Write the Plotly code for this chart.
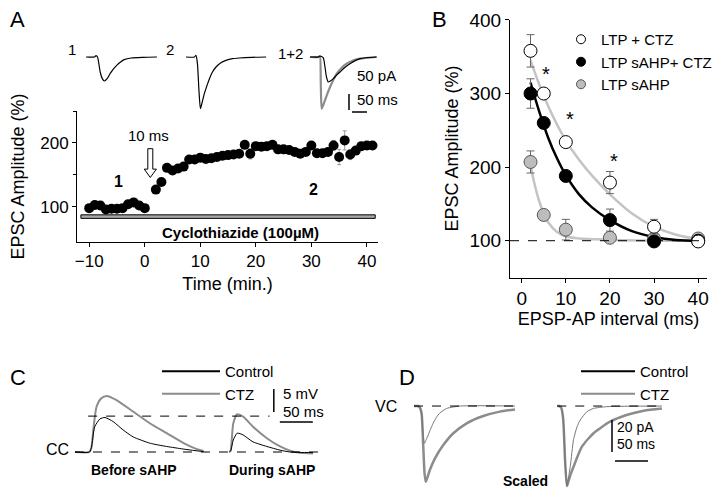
import plotly.graph_objects as go

W, H = 720, 491
OFF = 8  # the page shows the figure 8 px in from the top-left corner
FONT = "Liberation Sans, Arial, sans-serif"
GRAY = "#8c8c8c"
LGRAY = "#c4c4c4"


def fx(p):
    return (p - OFF) / W


def fy(p):
    return 1 - (p - OFF) / H


# ---------------- Panel A : time course ----------------
time_pre = [-10, -9, -8, -7, -6, -5, -4, -3, -2, -1, 0]
amp_pre = [98, 103, 102, 96, 97, 97, 98, 104, 107, 102, 98]
err_pre = [4, 4, 5, 5, 5, 5, 5, 5, 4, 4, 3]
time_post = list(range(2, 42))
amp_post = [127, 139, 161, 157, 160, 163, 174, 174, 177, 175,
            176, 178, 180, 181, 182, 183, 197, 183, 195, 194,
            195, 197, 190, 190, 189, 186, 183, 186, 196, 184,
            184, 186, 196, 178, 204, 182, 188, 195, 196, 196]
err_post = [4, 4, 4, 4, 4, 4, 4, 4, 4, 4,
            4, 4, 4, 5, 5, 5, 5, 8, 5, 5,
            5, 5, 4, 4, 4, 4, 4, 5, 5, 5,
            5, 6, 8, 12, 15, 8, 6, 6, 6, 5]

# example EPSC traces (ms, pA)
t1 = [0, 28, 33, 38, 47, 54, 61, 70, 80, 90, 102, 115, 127, 150, 190, 236]
i1 = [0, 0, 4, 0, -45, -65, -72, -65, -50, -37, -25, -15, -8, -3, -1, 0]
t2 = [0, 28, 33, 38, 43, 48, 54, 61, 70, 78, 88, 100, 115, 133, 155, 178, 220, 267]
i2 = [0, 0, 5, -20, -100, -155, -135, -110, -85, -65, -45, -30, -18, -10, -5, -3, -1, 0]
t12_gray = [0, 28, 33, 36, 39, 44, 50, 58, 67, 78, 89, 105, 122, 145, 167, 222]
i12_gray = [0, 0, 3, -80, -155, -145, -130, -110, -90, -68, -50, -33, -20, -10, -5, 0]
t12_black = [0, 28, 33, 44, 50, 55, 61, 68, 78, 88, 100, 115, 133, 167, 222]
i12_black = [0, 0, 3, -2, -30, -60, -75, -72, -65, -55, -45, -32, -20, -5, 0]

# ---------------- Panel B : interval dependence ----------------
interval = [2, 5, 10, 20, 30, 40]
ltp_ctz = [358, 300, 234, 179, 119, 99]
ltp_ctz_err = [22, 6, 5, 15, 10, 5]
ltp_sahp_ctz = [300, 260, 188, 128, 99, 100]
ltp_sahp_ctz_err = [20, 6, 6, 15, 5, 4]
ltp_sahp = [207, 135, 115, 104, 103, 103]
ltp_sahp_err = [15, 5, 14, 5, 5, 5]

fit_x = [2, 4, 6, 8, 10, 13, 16, 20, 25, 30, 35, 40]
fit_ltp_ctz = [345, 312, 283, 258, 236, 210, 188, 163, 137, 119, 108, 102]
fit_ltp_sahp_ctz = [315, 275, 240, 212, 189, 163, 145, 128, 113, 105, 101, 100]
fit_x_sahp = [2, 3, 4, 5, 6, 8, 10, 13, 16, 20, 30, 40]
fit_ltp_sahp = [203, 175, 153, 137, 125, 112, 106, 103, 102, 101, 100, 100]

# ---------------- Panel C : EPSPs (ms, mV) ----------------
c_before_t_gray = [0, 22, 25, 27.8, 32.8, 40, 48, 63, 88, 114, 139, 164, 182, 195]
c_before_v_gray = [0, 0, 1, 4.8, 9.9, 11.7, 12.2, 11.3, 8.8, 6.2, 4.1, 2.0, 0.8, 0.2]
c_before_t_black = [0, 22, 25, 30, 38, 45.5, 58, 73, 88, 114, 139, 164, 182, 195]
c_before_v_black = [0, 0, 1, 5.5, 7.2, 7.5, 6.6, 4.8, 3.3, 1.9, 1.2, 0.65, 0.3, 0.1]
c_during_t = [0, 2, 6, 12, 21, 36, 57, 77, 92, 107, 127]
c_during_v_gray = [0, 0.3, 6.2, 8.2, 7.7, 5.5, 3.0, 1.2, 0.3, -0.15, -0.3]
c_during_v_black = [0, 0.2, 2.6, 4.1, 3.7, 2.2, 1.2, 0.4, 0, -0.1, -0.1]

# ---------------- Panel D : EPSCs (ms, pA) ----------------
d_left_t_thick = [0, 6, 9, 11.6, 14, 16, 17.7, 20, 24, 31.8, 44.4, 59.6, 79.8, 105, 130, 153]
d_left_i_thick = [0, 0, -1, -5, -25, -42, -47.3, -45, -40, -32.7, -24.4, -17, -10.8, -6.25, -3.5, -2.1]
d_left_t_thin = [0, 6, 9, 11.6, 13.5, 15.7, 18, 21.7, 25, 29, 34, 39, 49.5, 70, 153]
d_left_i_thin = [0, 0, -1, -5, -16, -23.3, -21.5, -18, -14.5, -10.8, -7, -4.4, -1.5, 0, 0]
d_right_t_thick = [0, 3, 6, 9, 12, 14.7, 17, 20, 24.7, 37.4, 55, 80, 105, 131, 158.6]
d_right_i_thick = [0, 0, -1, -8, -35, -50, -47, -43, -37.9, -25.4, -17, -9.8, -5.6, -2.9, -1.5]
d_right_t_thin = [0, 3, 6, 9, 12, 14.7, 17, 20, 24.7, 30, 34.8, 45, 55, 75, 158.6]
d_right_i_thin = [0, 0, -1, -8, -35, -50, -45, -37, -21, -13, -8.75, -3.5, -1.5, -0.4, 0]

fig = go.Figure()

# --- A time course
for xs, ys, es in [(time_pre, amp_pre, err_pre), (time_post, amp_post, err_post)]:
    fig.add_trace(go.Scatter(
        x=xs, y=ys, mode="markers", xaxis="x", yaxis="y", showlegend=False,
        marker=dict(color="black", size=10),
        error_y=dict(array=es, color="#9a9a9a", thickness=1, width=2)))


def shift(ts, off):
    return [t + off for t in ts]


SP = dict(shape="spline", smoothing=0.6)
# --- A inset traces
fig.add_trace(go.Scatter(x=shift(t1, 87), y=i1, mode="lines", xaxis="x2", yaxis="y2",
                         showlegend=False, line=dict(color="black", width=1.2, **SP)))
fig.add_trace(go.Scatter(x=shift(t2, 420), y=i2, mode="lines", xaxis="x2", yaxis="y2",
                         showlegend=False, line=dict(color="black", width=1.2, **SP)))
fig.add_trace(go.Scatter(x=shift(t12_gray, 833), y=i12_gray, mode="lines", xaxis="x2", yaxis="y2",
                         showlegend=False, line=dict(color=GRAY, width=2.2, **SP)))
fig.add_trace(go.Scatter(x=shift(t12_black, 833), y=i12_black, mode="lines", xaxis="x2", yaxis="y2",
                         showlegend=False, line=dict(color="black", width=1.2, **SP)))

# --- B fits
for fxs, fys, col in [(fit_x, fit_ltp_ctz, LGRAY), (fit_x_sahp, fit_ltp_sahp, LGRAY),
                      (fit_x, fit_ltp_sahp_ctz, "black")]:
    fig.add_trace(go.Scatter(x=fxs, y=fys, mode="lines", xaxis="x3", yaxis="y3",
                             showlegend=False, line=dict(color=col, width=2.5, shape="spline")))

# --- B data
b_series = [
    ("LTP + CTZ", ltp_ctz, ltp_ctz_err, "white", "black"),
    ("LTP sAHP+ CTZ", ltp_sahp_ctz, ltp_sahp_ctz_err, "black", "black"),
    ("LTP sAHP", ltp_sahp, ltp_sahp_err, "#bdbdbd", "#555555"),
]
for name, ys, es, fill, edge in [b_series[2], b_series[1], b_series[0]]:
    fig.add_trace(go.Scatter(
        x=interval, y=ys, mode="markers", xaxis="x3", yaxis="y3", showlegend=False,
        marker=dict(color=fill, size=13, line=dict(color=edge, width=1)),
        error_y=dict(array=es, color="#666666", thickness=1, width=4)))
for name, ys, es, fill, edge in b_series:
    fig.add_trace(go.Scatter(
        x=[None], y=[None], mode="markers", name=name, xaxis="x3", yaxis="y3",
        legend="legend", marker=dict(color=fill, size=9, line=dict(color=edge, width=1))))

# --- C traces
C_OFF_DURING = 234
fig.add_trace(go.Scatter(x=c_before_t_gray, y=c_before_v_gray, mode="lines", xaxis="x4", yaxis="y4",
                         showlegend=False, line=dict(color=GRAY, width=2, **SP)))
fig.add_trace(go.Scatter(x=c_before_t_black, y=c_before_v_black, mode="lines", xaxis="x4", yaxis="y4",
                         showlegend=False, line=dict(color="black", width=1, **SP)))
fig.add_trace(go.Scatter(x=shift(c_during_t, C_OFF_DURING), y=c_during_v_gray, mode="lines",
                         xaxis="x4", yaxis="y4", showlegend=False, line=dict(color=GRAY, width=2, **SP)))
fig.add_trace(go.Scatter(x=shift(c_during_t, C_OFF_DURING), y=c_during_v_black, mode="lines",
                         xaxis="x4", yaxis="y4", showlegend=False, line=dict(color="black", width=1, **SP)))
for name, col in [("Control", "black"), ("CTZ", GRAY)]:
    fig.add_trace(go.Scatter(x=[None], y=[None], mode="lines", name=name, xaxis="x4", yaxis="y4",
                             legend="legend2", line=dict(color=col, width=2)))

# --- D traces
D_OFF_RIGHT = 217
fig.add_trace(go.Scatter(x=d_left_t_thick, y=d_left_i_thick, mode="lines", xaxis="x5", yaxis="y5",
                         showlegend=False, line=dict(color=GRAY, width=2.5, **SP)))
fig.add_trace(go.Scatter(x=d_left_t_thin, y=d_left_i_thin, mode="lines", xaxis="x5", yaxis="y5",
                         showlegend=False, line=dict(color="#777777", width=1, **SP)))
fig.add_trace(go.Scatter(x=shift(d_right_t_thick, D_OFF_RIGHT), y=d_right_i_thick, mode="lines",
                         xaxis="x5", yaxis="y5", showlegend=False, line=dict(color=GRAY, width=2.5, **SP)))
fig.add_trace(go.Scatter(x=shift(d_right_t_thin, D_OFF_RIGHT), y=d_right_i_thin, mode="lines",
                         xaxis="x5", yaxis="y5", showlegend=False, line=dict(color="#777777", width=1, **SP)))
for name, col in [("Control", "black"), ("CTZ", GRAY)]:
    fig.add_trace(go.Scatter(x=[None], y=[None], mode="lines", name=name, xaxis="x5", yaxis="y5",
                             legend="legend3", line=dict(color=col, width=2)))

# ---------------- axes ----------------
hidden = dict(visible=False, showgrid=False, zeroline=False, fixedrange=True)
axis_common = dict(showline=True, linecolor="black", linewidth=1, ticks="outside",
                   tickcolor="black", ticklen=4, showgrid=False, zeroline=False,
                   color="black", ticklabeloverflow="allow")
leg_common = dict(xanchor="left", yanchor="top", bgcolor="rgba(0,0,0,0)", tracegroupgap=0)

fig.update_layout(
    width=W, height=H, margin=dict(l=0, r=0, t=0, b=0, autoexpand=False),
    paper_bgcolor="white", plot_bgcolor="rgba(0,0,0,0)",
    font=dict(family=FONT, color="black", size=15),
    xaxis=dict(domain=[fx(77), fx(378)], range=[-12.2, 42], anchor="y",
               tickvals=[-10, 0, 10, 20, 30, 40], tickfont=dict(size=17),
               title=dict(text="Time (min.)", font=dict(size=18), standoff=6), **axis_common),
    yaxis=dict(domain=[fy(242), fy(111)], range=[45, 250], anchor="x",
               tickvals=[100, 200], tickfont=dict(size=17),
               minor=dict(tickvals=[150, 250], ticks="outside", ticklen=3, tickcolor="black"),
               title=dict(text="EPSC Amplitude (%)", font=dict(size=18), standoff=10), **axis_common),
    xaxis2=dict(domain=[fx(60), fx(385)], range=[0, 1083], anchor="y2", **hidden),
    yaxis2=dict(domain=[fy(115), fy(40)], range=[-174, 51], anchor="x2", **hidden),
    xaxis3=dict(domain=[fx(510), fx(707)], range=[-2.65, 42], anchor="y3",
                tickvals=[0, 10, 20, 30, 40], tickfont=dict(size=19),
                title=dict(text="EPSP-AP interval (ms)", font=dict(size=18), standoff=4), **axis_common),
    yaxis3=dict(domain=[fy(277.5), fy(19.5)], range=[50, 400.6], anchor="x3",
                tickvals=[100, 200, 300, 400], tickfont=dict(size=19),
                title=dict(text="EPSC Amplitude (%)", font=dict(size=18), standoff=6), **axis_common),
    xaxis4=dict(domain=[fx(40), fx(350)], range=[-53, 417], anchor="y4", **hidden),
    yaxis4=dict(domain=[fy(475), fy(375)], range=[-5, 16.74], anchor="x4", **hidden),
    xaxis5=dict(domain=[fx(380), fx(720)], range=[-51.5, 463.6], anchor="y5", **hidden),
    yaxis5=dict(domain=[fy(491), fy(395)], range=[-53.1, 6.9], anchor="x5", **hidden),
    legend=dict(x=fx(561), y=fy(23), font=dict(size=15), itemwidth=30, **leg_common),
    legend2=dict(x=fx(157), y=fy(355), font=dict(size=15), itemwidth=58, **leg_common),
    legend3=dict(x=fx(576), y=fy(355), font=dict(size=15), itemwidth=54, **leg_common),
)

# ---------------- shapes ----------------
shapes = []
# A: drug bar and arrow
shapes.append(dict(type="rect", xref="x", yref="y", x0=-11.5, x1=41.5, y0=82, y1=87.5,
                   fillcolor="#a8a8a8", line=dict(color="black", width=1)))
cx = 1.0
shapes.append(dict(type="path", xref="x", yref="y",
                   path=f"M {cx-0.45},191 L {cx+0.45},191 L {cx+0.45},159 L {cx+1.1},159 "
                        f"L {cx},146 L {cx-1.1},159 L {cx-0.45},159 Z",
                   fillcolor="white", line=dict(color="black", width=1)))
# A inset scale bars
shapes.append(dict(type="line", xref="x2", yref="y2", x0=963, x1=963, y0=-111, y1=-159,
                   line=dict(color="black", width=1.5)))
shapes.append(dict(type="line", xref="x2", yref="y2", x0=973, x1=1023, y0=-165, y1=-165,
                   line=dict(color="black", width=1.5)))
# B dashed baseline
shapes.append(dict(type="line", xref="x3 domain", yref="y3", x0=0, x1=1, y0=100, y1=100,
                   line=dict(color="black", width=1, dash="dash")))
# C dashed lines and scale bars
shapes.append(dict(type="line", xref="x4", yref="y4", x0=0, x1=371, y0=0, y1=0,
                   line=dict(color="black", width=1, dash="dash")))
shapes.append(dict(type="line", xref="x4", yref="y4", x0=20, x1=295, y0=7.8, y1=7.8,
                   line=dict(color="black", width=1, dash="dash")))
shapes.append(dict(type="line", xref="x4", yref="y4", x0=301.5, x1=301.5, y0=8.7, y1=13.7,
                   line=dict(color="black", width=1.5)))
shapes.append(dict(type="line", xref="x4", yref="y4", x0=310.6, x1=360.6, y0=6.5, y1=6.5,
                   line=dict(color="black", width=1.5)))
# D dashed lines and scale bars
shapes.append(dict(type="line", xref="x5", yref="y5", x0=0, x1=153, y0=0, y1=0,
                   line=dict(color="black", width=1, dash="dash")))
shapes.append(dict(type="line", xref="x5", yref="y5", x0=217, x1=377, y0=0, y1=0,
                   line=dict(color="black", width=1, dash="dash")))
shapes.append(dict(type="line", xref="x5", yref="y5", x0=300, x1=300, y0=-8.75, y1=-28.75,
                   line=dict(color="black", width=1.5)))
shapes.append(dict(type="line", xref="x5", yref="y5", x0=304.5, x1=354.5, y0=-34.4, y1=-34.4,
                   line=dict(color="black", width=1.5)))
fig.update_layout(shapes=shapes)

# ---------------- annotations ----------------
ann = []


def txt(text, x, y, xref="paper", yref="paper", size=15, bold=False, xanchor="center", yanchor="middle"):
    if bold:
        text = f"<b>{text}</b>"
    ann.append(dict(text=text, x=x, y=y, xref=xref, yref=yref, showarrow=False,
                    font=dict(size=size, family=FONT, color="black"),
                    xanchor=xanchor, yanchor=yanchor, borderpad=0))


# panel letters
txt("A", fx(9), fy(20), size=22, xanchor="left")
txt("B", fx(431), fy(20), size=22, xanchor="left")
txt("C", fx(9), fy(377), size=22, xanchor="left")
txt("D", fx(398), fy(377), size=22, xanchor="left")
# A
txt("1", fx(72), fy(49), size=15)
txt("2", fx(170), fy(49), size=15)
txt("1+2", fx(290), fy(53), size=15)
txt("50 pA", fx(356), fy(76), size=15, xanchor="left")
txt("50 ms", fx(356), fy(100), size=15, xanchor="left")
txt("10 ms", 0.6, 212, "x", "y", size=15)
txt("1", -4.7, 140, "x", "y", size=16, bold=True)
txt("2", 30.3, 127, "x", "y", size=16, bold=True)
txt("Cyclothiazide (100µM)", 17.2, 60, "x", "y", size=15, bold=True)
# B asterisks
for ax_, ay_ in [(5.6, 326), (11, 266), (21, 208)]:
    txt("*", ax_, ay_, "x3", "y3", size=20)
# C
txt("CC", fx(70), fy(449), size=16, xanchor="right")
txt("5 mV", fx(282), fy(393), size=15, xanchor="left")
txt("50 ms", fx(282), fy(411), size=15, xanchor="left")
txt("Before sAHP", fx(134), fy(470), size=14, bold=True)
txt("During sAHP", fx(272), fy(470), size=14, bold=True)
# D
txt("VC", fx(398), fy(406), size=16, xanchor="right")
txt("20 pA", fx(616), fy(427), size=14, xanchor="left")
txt("50 ms", fx(616), fy(444), size=14, xanchor="left")
txt("Scaled", fx(525), fy(481), size=14, bold=True)
fig.update_layout(annotations=ann)

fig.write_html("out.html")
